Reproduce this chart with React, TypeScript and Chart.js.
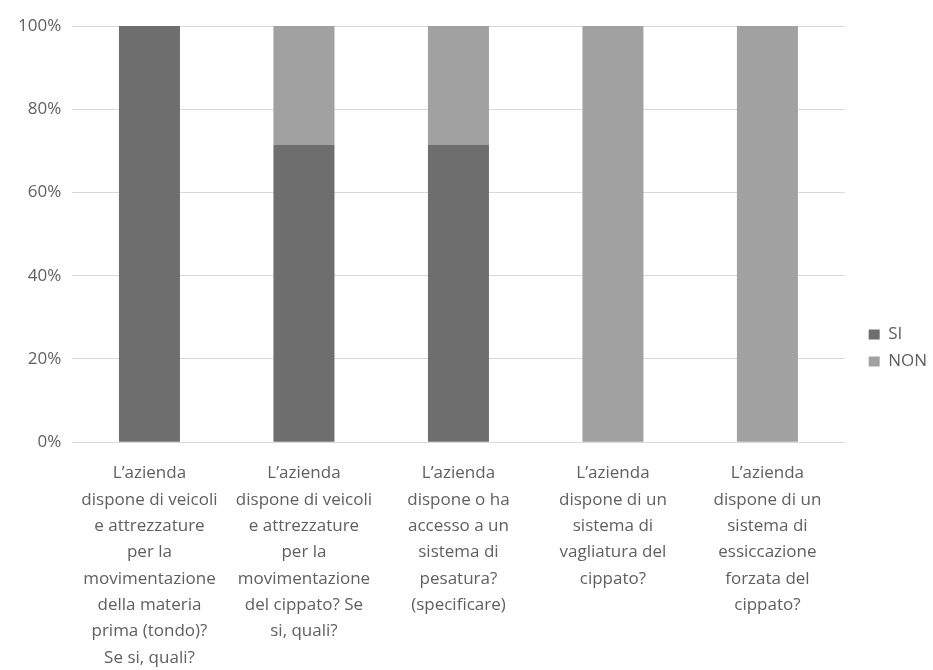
import React, { useEffect, useRef } from "react";
import { Chart, registerables } from "chart.js";

Chart.register(...registerables);

const categories: string[][] = [
  ["L’azienda", "dispone di veicoli", "e attrezzature", "per la", "movimentazione", "della materia", "prima (tondo)?", "Se si, quali?"],
  ["L’azienda", "dispone di veicoli", "e attrezzature", "per la", "movimentazione", "del cippato? Se", "si, quali?"],
  ["L’azienda", "dispone o ha", "accesso a un", "sistema di", "pesatura?", "(specificare)"],
  ["L’azienda", "dispone di un", "sistema di", "vagliatura del", "cippato?"],
  ["L’azienda", "dispone di un", "sistema di", "essiccazione", "forzata del", "cippato?"],
];

const seriesNames = ["SI", "NON"];
const siValues = [100, 71.4, 71.4, 0, 0];
const nonValues = [0, 28.6, 28.6, 100, 100];
const yTickValues = [0, 20, 40, 60, 80, 100];

const SI_COLOR = "#6e6e6e";
const NON_COLOR = "#a1a1a1";
const TEXT_COLOR = "#5f5f5f";
const FONT = "'Open Sans', 'Noto Sans', sans-serif";

const LEG_DX = 14;
const LEG_DY = -9.5;

const legendShift = {
  id: "legendShift",
  afterLayout(chart: any) {
    const l = chart.legend;
    if (l) {
      l.left += LEG_DX;
      l.right += LEG_DX;
      l.top += LEG_DY;
      l.bottom += LEG_DY;
    }
  },
};

export default function App() {
  const ref = useRef<HTMLCanvasElement | null>(null);

  useEffect(() => {
    if (!ref.current) return;
    const chart = new Chart(ref.current, {
      type: "bar",
      data: {
        labels: categories,
        datasets: [
          {
            label: seriesNames[0],
            data: siValues,
            backgroundColor: SI_COLOR,
            barPercentage: 0.395,
            categoryPercentage: 1,
          },
          {
            label: seriesNames[1],
            data: nonValues,
            backgroundColor: NON_COLOR,
            barPercentage: 0.395,
            categoryPercentage: 1,
          },
        ],
      },
      options: {
        animation: false,
        responsive: true,
        maintainAspectRatio: false,
        layout: { padding: { top: 26, left: 7, right: 10, bottom: 0 } },
        plugins: {
          tooltip: { enabled: false },
          legend: {
            position: "right",
            align: "center",
            labels: {
              boxWidth: 11,
              boxHeight: 10,
              padding: 10,
              color: TEXT_COLOR,
              font: { family: FONT, size: 17 },
            },
          },
        },
        scales: {
          x: {
            stacked: true,
            grid: { display: false, drawTicks: false },
            border: { display: false },
            ticks: {
              autoSkip: false,
              maxRotation: 0,
              minRotation: 0,
              padding: 18,
              color: TEXT_COLOR,
              font: { family: FONT, size: 17, lineHeight: 1.55 },
            },
          },
          y: {
            stacked: true,
            min: 0,
            max: 100,
            afterBuildTicks: (scale: any) => {
              scale.ticks = yTickValues.map((v) => ({ value: v }));
            },
            grid: { color: "#d9d9d9", lineWidth: 1, drawTicks: false },
            border: { display: false },
            ticks: {
              padding: 11,
              color: TEXT_COLOR,
              font: { family: FONT, size: 17 },
              callback: (v: any) => `${v}%`,
            },
          },
        },
      },
      plugins: [legendShift],
    });
    return () => chart.destroy();
  }, []);

  return (
    <div
      style={{
        position: "absolute",
        left: 0,
        top: 0,
        width: 933,
        height: 670,
        overflow: "hidden",
        background: "#ffffff",
      }}
    >
      <div style={{ position: "relative", width: 933, height: 689 }}>
        <canvas ref={ref} />
      </div>
    </div>
  );
}
